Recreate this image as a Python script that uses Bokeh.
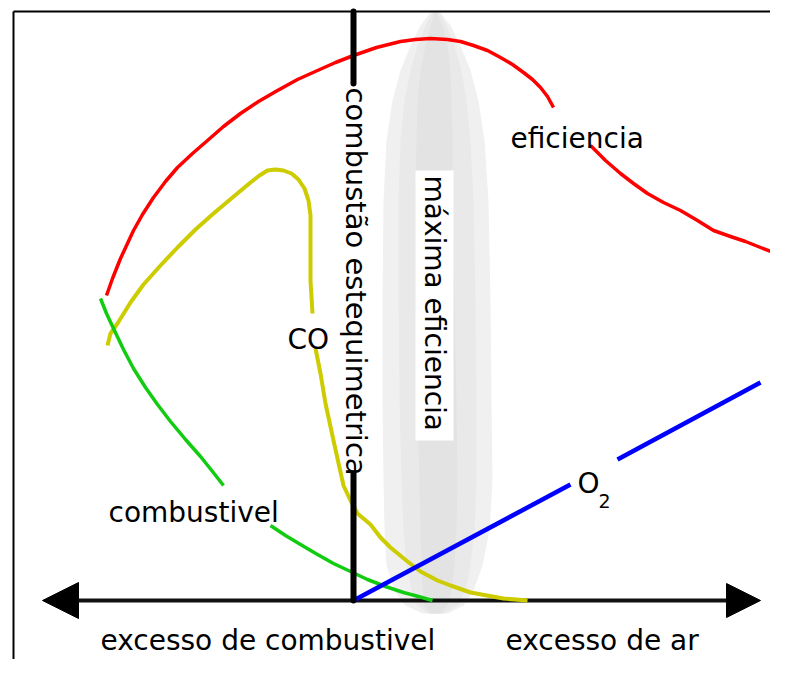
import math
from bokeh.plotting import figure
from bokeh.models import Range1d, Label, Arrow, NormalHead
from bokeh.embed import file_html
from bokeh.resources import INLINE

nan = float("nan")

# ---- data (in picture units) ----
eff_x = [106, 112, 120, 133, 142, 153, 165, 177, 192, 207, 223, 240, 258, 277, 297, 317, 335, 353, 376, 400, 415, 430, 447, 460, 473, 487, 500, 512, 523, 532, 540, 547, 553,
         nan, 590, 605, 620, 633, 647, 663, 680, 697, 713, 730, 745, 760, 773]
eff_y = [295, 278, 258, 230, 214, 197, 181, 167, 153, 140, 126, 113, 101, 90, 79, 70, 62, 55, 47, 41, 39, 38, 39, 41, 45, 50, 57, 64, 72, 79, 87, 96, 107,
         nan, 145, 160, 173, 183, 193, 202, 210, 220, 230, 236, 241, 247, 252]

co_x = [107, 110, 117, 130, 143, 160, 177, 195, 213, 232, 250, 259, 267, 275, 283, 291, 298, 304, 308, 310, 310, 310, 312,
        nan, 315, 320, 325, 333, 343, 350, 357, 370, 380, 390, 407, 420, 437, 450, 470, 503, 527]
co_y = [345, 333, 323, 302, 284, 265, 247, 229, 213, 197, 182, 175, 170, 169, 170, 173, 179, 188, 200, 215, 240, 280, 313,
        nan, 348, 373, 403, 440, 485, 500, 513, 524, 537, 547, 561, 571, 580, 585, 592, 598, 600]

fuel_x = [100, 106, 113, 123, 133, 145, 157, 170, 185, 200, 212, 223,
          nan, 270, 285, 300, 317, 333, 350, 367, 385, 403, 418, 432]
fuel_y = [298, 313, 328, 349, 368, 387, 404, 421, 439, 456, 471, 485,
          nan, 525, 535, 544, 554, 563, 571, 579, 586, 592, 596, 600]

o2_x = [353, 570, nan, 617, 760]
o2_y = [600, 484, nan, 459, 382]

# shaded "maximum efficiency" band profile
blob_y = [12, 25, 45, 70, 100, 140, 200, 300, 400, 480, 530, 565, 590, 605, 613]
outer_left = [430, 420, 410, 400, 392, 386, 383, 382, 382, 383, 384, 386, 394, 405, 422]
outer_right = [440, 450, 460, 470, 478, 484, 488, 490, 491, 492, 489, 482, 473, 463, 447]
middle_left = [432, 425, 417, 410, 404, 400, 398, 398, 399, 401, 403, 406, 411, 417, 428]
middle_right = [438, 446, 454, 461, 466, 470, 473, 475, 476, 476, 474, 470, 465, 457, 442]
inner_left = [434, 430, 425, 420, 417, 416, 415, 415, 417, 419, 420, 421, 422, 424, 430]
inner_right = [436, 442, 447, 450, 451, 452, 452, 454, 456, 457, 456, 454, 451, 447, 440]

# ---- layout constants ----
STOICH_X = 353
AXIS_Y = 600
AXIS_X0, AXIS_X1 = 42, 760
FONT = "DejaVu Sans"
FS = "28px"

p = figure(width=770, height=659, x_range=Range1d(0, 770), y_range=Range1d(659, 0),
           output_backend="svg", toolbar_location=None, min_border=0,
           x_axis_location=None, y_axis_location=None,
           background_fill_color="#ffffff", border_fill_color="#ffffff")
p.grid.visible = False
p.outline_line_color = None

# shaded band
for l, r, c in [(outer_left, outer_right, "#f0f0f0"),
                (middle_left, middle_right, "#e9e9e9"),
                (inner_left, inner_right, "#e3e3e3")]:
    rr = p.harea(x1=l, x2=r, y=blob_y, fill_color=c)
    rr.level = "image"

# frame lines
p.line([13, 13], [11, 659], line_color="black", line_width=2)
p.line([13, 770], [11, 11], line_color="black", line_width=2)

# horizontal axis with arrows
arrow = Arrow(x_start=AXIS_X0, y_start=AXIS_Y, x_end=AXIS_X1, y_end=AXIS_Y,
              line_width=4, line_color="#111111",
              start=NormalHead(size=36, fill_color="black", line_color="black", line_width=1),
              end=NormalHead(size=34, fill_color="black", line_color="black", line_width=1),
              level="underlay")
p.add_layout(arrow)

# curves
p.line(eff_x, eff_y, line_color="#ff0000", line_width=3.5, line_join="round")
p.line(co_x, co_y, line_color="#cccc00", line_width=4, line_join="round")
p.line(fuel_x, fuel_y, line_color="#11cc11", line_width=3.5, line_join="round")
p.line(o2_x, o2_y, line_color="#0000ff", line_width=4.5)

# stoichiometric line
p.segment(x0=[STOICH_X, STOICH_X], y0=[11, 473], x1=[STOICH_X, STOICH_X], y1=[83, AXIS_Y],
          line_color="black", line_width=6, line_cap="round")

# white box behind the vertical label
p.quad(left=[415], right=[453], top=[170], bottom=[440], fill_color="white", line_color=None)

def lab(x, y, t, size=FS, angle=0.0, align="left", baseline="alphabetic"):
    p.add_layout(Label(x=x, y=y, text=t, text_font=FONT, text_font_size=size,
                       text_color="black", angle=angle, text_align=align,
                       text_baseline=baseline))

lab(510, 138, "eficiencia")
lab(108, 512, "combustivel")
lab(287, 339, "CO")
lab(577, 483, "O")
lab(598, 500, "2", size="19px")
lab(100, 640, "excesso de combustivel")
lab(505, 640, "excesso de ar")
lab(355, 87, "combustão estequimetrica", size="29px", angle=-math.pi / 2, baseline="middle")
lab(434, 175, "máxima eficiencia", angle=-math.pi / 2, baseline="middle")

open("out.html", "w").write(file_html(p, INLINE))
